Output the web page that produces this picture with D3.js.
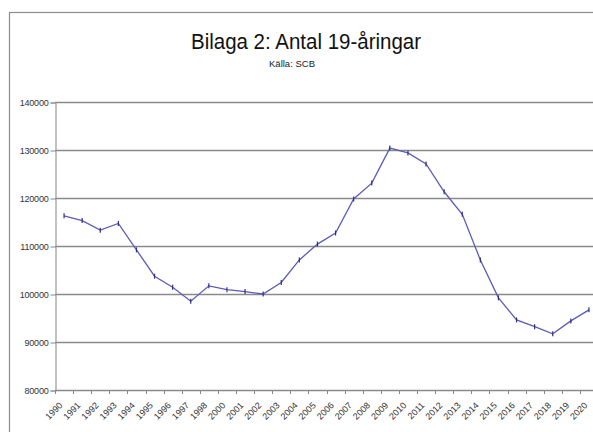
<!DOCTYPE html>
<html>
<head>
<meta charset="utf-8">
<script src="https://cdn.jsdelivr.net/npm/d3@7"></script>
<style>
  html, body { margin: 0; padding: 0; background: #fff; }
  svg { display: block; }
  text { font-family: "Liberation Sans", Arial, sans-serif; }
</style>
</head>
<body>
<svg id="chart" width="593" height="432"></svg>
<script>
const years = ["1990","1991","1992","1993","1994","1995","1996","1997","1998","2000",
               "2001","2002","2003","2004","2005","2006","2007","2008","2009","2010",
               "2011","2012","2013","2014","2015","2016","2017","2018","2019","2020"];
const counts = [116300, 115300, 113300, 114700, 109200, 103700, 101400, 98500, 101700, 100900,
                100500, 100000, 102400, 107100, 110400, 112700, 119800, 123100, 130400, 129400,
                127100, 121300, 116600, 107100, 99200, 94600, 93200, 91700, 94400, 96700];
const yTicks = [80000, 90000, 100000, 110000, 120000, 130000, 140000];
const titleText = "Bilaga 2: Antal 19-åringar";
const subtitleText = "Källa: SCB";

const svg = d3.select("#chart");
const W = 593, H = 432;
const plot = {left: 55, right: 598, top: 102, bottom: 390};

// outer frame
svg.append("rect").attr("x", 9.5).attr("y", 12.5).attr("width", 640).attr("height", 460)
  .attr("fill", "#fff").attr("stroke", "#8c8c8c").attr("stroke-width", 1.2);

// titles
svg.append("text").attr("x", 306).attr("y", 49).attr("text-anchor", "middle")
  .attr("font-size", 21.5).attr("fill", "#111")
  .attr("textLength", 230).attr("lengthAdjust", "spacingAndGlyphs")
  .text(titleText);
svg.append("text").attr("x", 292).attr("y", 67).attr("text-anchor", "middle")
  .attr("font-size", 9.5).attr("fill", "#222")
  .text(subtitleText);

const x = d3.scaleBand().domain(years).range([plot.left, plot.right]).padding(0);
const y = d3.scaleLinear().domain([80000, 140000]).range([plot.bottom, plot.top]);

// gridlines
svg.append("g").selectAll("line").data(yTicks.filter(v => v > 80000)).join("line")
  .attr("x1", plot.left).attr("x2", W)
  .attr("y1", d => Math.round(y(d)) + 0.5).attr("y2", d => Math.round(y(d)) + 0.5)
  .attr("stroke", "#8a8a8a").attr("stroke-width", 1.6);

// y axis
const yAxis = d3.axisLeft(y).tickValues(yTicks).tickSize(5).tickPadding(2).tickFormat(d3.format("d"));
const gy = svg.append("g").attr("transform", `translate(${plot.left + 0.5},0.5)`).call(yAxis);
gy.select(".domain").attr("stroke", "#9a9a9a").attr("stroke-width", 1.2);
gy.selectAll(".tick line").attr("stroke", "#8a8a8a");
gy.selectAll(".tick text").attr("font-size", 9).attr("fill", "#333")
  .attr("font-family", "Liberation Sans, Arial, sans-serif").attr("letter-spacing", -0.2);

// x axis line
svg.append("line").attr("x1", plot.left).attr("x2", W)
  .attr("y1", plot.bottom + 0.5).attr("y2", plot.bottom + 0.5)
  .attr("stroke", "#8a8a8a").attr("stroke-width", 1.6);
// x tick marks at category boundaries
svg.append("g").selectAll("line").data(years).join("line")
  .attr("x1", d => Math.round(x(d)) + 0.5).attr("x2", d => Math.round(x(d)) + 0.5)
  .attr("y1", plot.bottom).attr("y2", plot.bottom + 4)
  .attr("stroke", "#8a8a8a").attr("stroke-width", 1);
// x labels
const xAxis = d3.axisBottom(x).tickSize(0).tickPadding(0);
const gx = svg.append("g").attr("transform", `translate(0,${plot.bottom})`).call(xAxis);
gx.select(".domain").remove();
gx.selectAll(".tick text")
  .attr("font-size", 9).attr("fill", "#333")
  .attr("font-family", "Liberation Sans, Arial, sans-serif")
  .attr("text-anchor", "end")
  .attr("dy", 0).attr("y", 0)
  .attr("transform", "translate(-1,16) rotate(-45)");

// line
const line = d3.line().x((d, i) => x(years[i]) + x.bandwidth() / 2).y(d => y(d));
svg.append("path").datum(counts).attr("d", line)
  .attr("fill", "none").attr("stroke", "#5c5cb8").attr("stroke-width", 1.3);

// markers (small dash markers)
svg.append("g").selectAll("line").data(counts).join("line")
  .attr("x1", (d, i) => x(years[i]) + x.bandwidth() / 2)
  .attr("x2", (d, i) => x(years[i]) + x.bandwidth() / 2)
  .attr("y1", d => y(d) - 2.5).attr("y2", d => y(d) + 2.5)
  .attr("stroke", "#2e2e8a").attr("stroke-width", 1.2);
</script>
</body>
</html>
